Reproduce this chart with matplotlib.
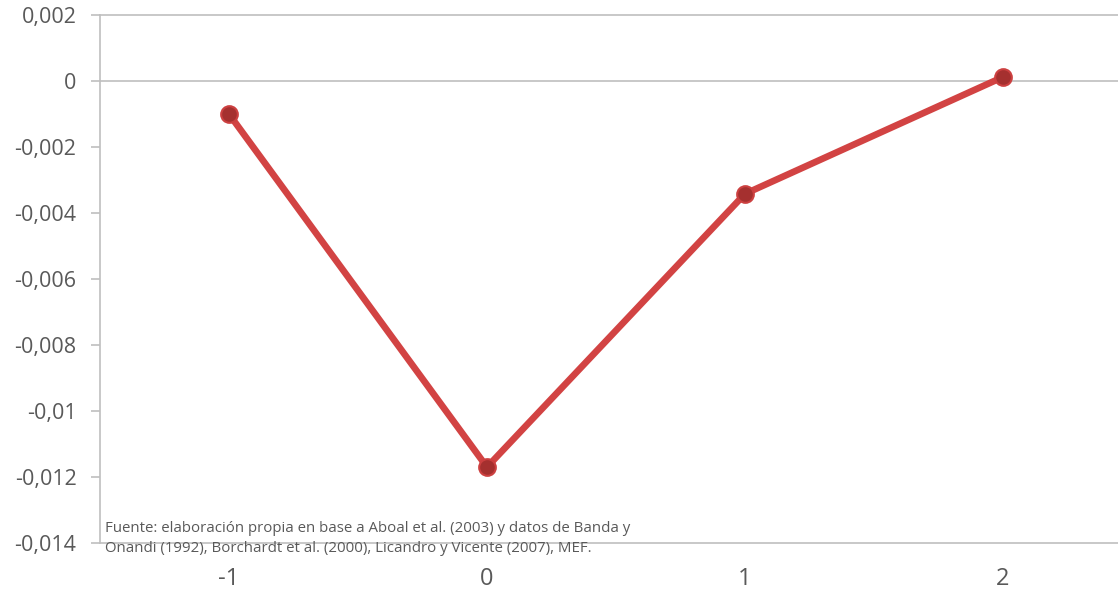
import matplotlib
matplotlib.use("Agg")
import matplotlib.pyplot as plt
from matplotlib.ticker import FuncFormatter

# data
categories = ["-1", "0", "1", "2"]
values = [-0.0010, -0.0117, -0.00342, 0.00012]
y_ticks = [0.002, 0.0, -0.002, -0.004, -0.006, -0.008, -0.01, -0.012, -0.014]
source_note = ("Fuente: elaboración propia en base a Aboal et al. (2003) y datos de Banda y\n"
               "Onandi (1992), Borchardt et al. (2000), Licandro y Vicente (2007), MEF.")

plt.rcParams['font.family'] = ['Open Sans', 'DejaVu Sans']

TEXT = '#595959'
GRID = '#bfbfbf'

fig = plt.figure(figsize=(11.18, 5.92), dpi=100)
ax = fig.add_axes([100 / 1118, 1 - 543 / 592, 1018 / 1118, (543 - 15) / 592])

x = list(range(len(categories)))
ax.plot(x, values, color='#d24343', linewidth=4.8, solid_capstyle='round', zorder=3)
ax.plot(x, values, linestyle='none', marker='o', markersize=12,
        markerfacecolor='#a5302f', markeredgecolor='#cc4040', markeredgewidth=1.5, zorder=4)

ax.set_xlim(-0.5, 3.446)
ax.set_ylim(-0.014, 0.002)
ax.set_xticks(x)
ax.set_xticklabels(categories)
ax.set_yticks(y_ticks)

def comma_fmt(v, pos):
    if abs(v) < 1e-12:
        return "0"
    s = f"{v:.3f}".rstrip('0')
    return s.replace('.', ',')

ax.yaxis.set_major_formatter(FuncFormatter(comma_fmt))

for s in ['top', 'right']:
    ax.spines[s].set_visible(False)
ax.spines['left'].set_color(GRID)
ax.spines['bottom'].set_color(GRID)
ax.spines['left'].set_linewidth(1.2)
ax.spines['bottom'].set_linewidth(1.2)

ax.axhline(0, color=GRID, linewidth=1.2, zorder=1)
ax.axhline(0.002, color=GRID, linewidth=1.2, zorder=1, clip_on=False)

ax.tick_params(axis='y', colors=GRID, labelcolor=TEXT, labelsize=15.5, length=6.5, width=1.2, pad=10.5)
ax.tick_params(axis='x', length=0, labelcolor=TEXT, labelsize=17, pad=17)

ax.text(0.005, 0.008, source_note, transform=ax.transAxes, fontsize=10.8,
        color=TEXT, ha='left', va='center', linespacing=1.45)

fig.savefig("out.png", dpi=100)
